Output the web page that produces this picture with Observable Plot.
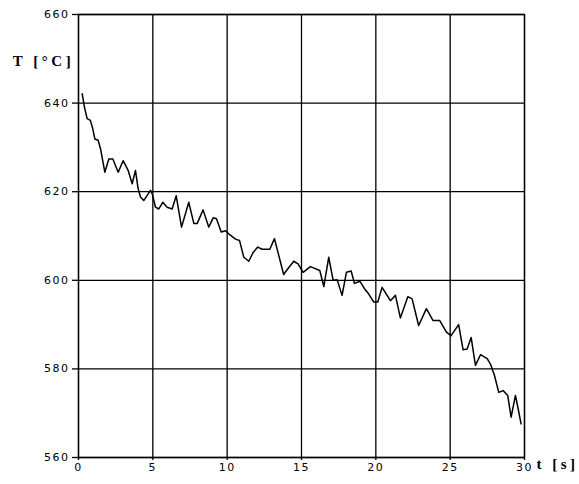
<!DOCTYPE html>
<html>
<head>
<meta charset="utf-8">
<script src="https://cdn.jsdelivr.net/npm/d3@7"></script>
<script src="https://cdn.jsdelivr.net/npm/@observablehq/plot@0.6"></script>
<style>
  html, body { margin: 0; padding: 0; background: #fff; }
  #chart { width: 579px; height: 484px; }
  #chart svg g[aria-label="x-axis tick label"] text,
  #chart svg g[aria-label="y-axis tick label"] text { letter-spacing: 1.5px; }
  #chart svg g[aria-label="text"] text { letter-spacing: 3.5px; }
</style>
</head>
<body>
<div id="chart"></div>
<script>
const timeS = [0.25,0.4,0.58,0.8,0.96,1.1,1.32,1.48,1.77,2.04,2.31,2.67,3.0,3.34,3.61,3.83,4.01,4.17,4.39,4.84,4.96,5.18,5.4,5.67,5.96,6.3,6.57,6.93,7.42,7.76,7.98,8.38,8.76,9.06,9.28,9.6,9.89,10.17,10.56,10.83,11.12,11.45,11.75,12.06,12.35,12.87,13.18,13.8,14.08,14.48,14.77,15.11,15.6,16.23,16.5,16.83,17.13,17.4,17.73,18.02,18.34,18.56,18.92,19.24,19.5,19.86,20.13,20.42,20.98,21.32,21.65,22.15,22.44,22.88,23.4,23.85,24.3,24.75,25.06,25.57,25.87,26.14,26.41,26.7,27.04,27.49,27.71,27.98,28.27,28.56,28.87,29.1,29.39,29.55,29.77];
const tempC = [642.1,639.1,636.5,636.1,634.2,631.9,631.6,629.7,624.4,627.4,627.4,624.4,627.0,624.8,621.8,624.8,620.7,618.8,618.0,620.3,619.5,616.5,616.1,617.6,616.5,616.1,619.1,612.0,617.6,612.8,612.8,615.9,612.0,614.1,613.9,610.9,611.2,610.3,609.3,609.0,605.2,604.3,606.3,607.5,607.0,607.0,609.4,601.3,602.6,604.3,603.7,601.8,603.1,602.2,598.6,605.2,600.0,600.1,596.6,601.8,602.1,599.3,599.8,598.1,597.0,595.1,595.1,598.4,595.4,596.6,591.5,596.3,595.8,589.8,593.6,590.9,590.9,588.3,587.5,590.0,584.3,584.5,587.1,580.8,583.2,582.3,581.1,578.5,574.7,575.1,574.0,569.1,574.0,571.4,567.6];
const xTicks = [0,5,10,15,20,25,30];
const yTicks = [560,580,600,620,640,660];
const yLabel = "T [°C]";
const xLabel = "t [s]";

const data = timeS.map((t, i) => ({t, T: tempC[i]}));

const chart = Plot.plot({
  width: 579,
  height: 484,
  marginLeft: 78,
  marginRight: 55,
  marginTop: 14,
  marginBottom: 27,
  style: {fontFamily: "DejaVu Sans", fontSize: "11px", color: "#000", background: "#fff"},
  x: {domain: [0, 30], ticks: xTicks, label: null},
  y: {domain: [560, 660], ticks: yTicks, label: null},
  marks: [
    Plot.ruleX(xTicks, {stroke: "#000", strokeWidth: 1.3}),
    Plot.ruleY(yTicks, {stroke: "#000", strokeWidth: 1.3}),
    Plot.frame({stroke: "#000", strokeWidth: 1.3}),
    Plot.axisX({ticks: xTicks, tickSize: 3, tickPadding: 3, stroke: "#000", strokeWidth: 1.3, tickFormat: d => String(d)}),
    Plot.axisY({ticks: yTicks, tickSize: 6, tickPadding: 3, stroke: "#000", strokeWidth: 1.3, tickFormat: d => String(d)}),
    Plot.line(data, {x: "t", y: "T", stroke: "#000", strokeWidth: 1.5}),
    Plot.text([yLabel], {frameAnchor: "top-left", dx: -35, dy: 41, text: d => d, fontFamily: "Liberation Serif", fontWeight: "bold", fontSize: 15, textAnchor: "middle", fill: "#000"}),
    Plot.text([xLabel], {frameAnchor: "bottom-right", dx: 33, dy: 11, text: d => d, fontFamily: "Liberation Serif", fontWeight: "bold", fontSize: 15, textAnchor: "middle", fill: "#000"})
  ]
});
document.getElementById("chart").append(chart);
</script>
</body>
</html>
